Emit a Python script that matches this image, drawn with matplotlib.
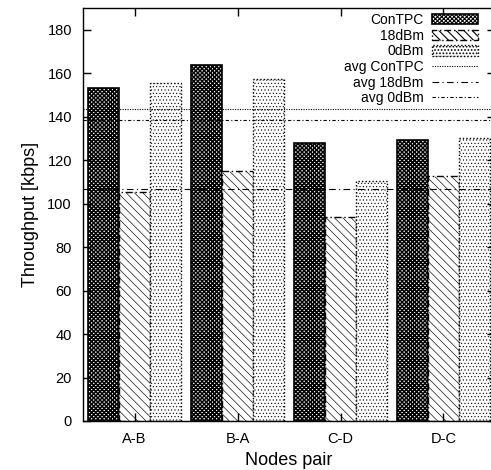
#!/usr/bin/env python3
"""Throughput per node pair: ConTPC vs fixed 18dBm / 0dBm transmit power."""

import matplotlib
matplotlib.use("Agg")
import matplotlib.pyplot as plt
from matplotlib.patches import Patch
from matplotlib.lines import Line2D
import numpy as np

# data
pairs = ["A-B", "B-A", "C-D", "D-C"]
contpc = [153, 164, 128, 129.5]
dbm18 = [105.5, 115, 94, 112.5]
dbm0 = [155.5, 157.5, 110.5, 130]
series_names = ["ConTPC", "18dBm", "0dBm"]
avg_names = ["avg ConTPC", "avg 18dBm", "avg 0dBm"]
avg_values = [143.7, 106.8, 138.3]
yticks = [0, 20, 40, 60, 80, 100, 120, 140, 160, 180]

plt.rcParams['font.family'] = ['Liberation Sans', 'DejaVu Sans']
plt.rcParams['hatch.linewidth'] = 0.8
plt.rcParams['hatch.color'] = 'black'

W, H = 491, 470
fig = plt.figure(figsize=(W / 100, H / 100), dpi=100)
ax = fig.add_axes([83 / W, (H - 421) / H, (495 - 83) / W, (421 - 8) / H])

x = np.arange(len(pairs))
bw = 0.3

styles = [
    dict(hatch='xxxxxxxx', edgecolor='black', linewidth=1.2, linestyle='-'),
    dict(hatch='\\\\\\\\', edgecolor='black', linewidth=1.0, linestyle=(0, (5, 2, 1, 2))),
    dict(hatch='.....', edgecolor='black', linewidth=1.0, linestyle=(0, (1, 1.5))),
]
hatch_lw = [1.1, 0.45, 0.4]

for k, vals in enumerate([contpc, dbm18, dbm0]):
    bars = ax.bar(x + (k - 1) * bw, vals, width=bw, facecolor='white', **styles[k])
    for b in bars:
        if hasattr(b, 'set_hatch_linewidth'):
            b.set_hatch_linewidth(hatch_lw[k])

avg_styles = [(0, (1, 1.2)), (0, (6, 3, 1, 3)), (0, (3, 2, 1, 2))]
for val, ls in zip(avg_values, avg_styles):
    ax.axhline(val, color='black', linewidth=0.8, linestyle=ls, zorder=3)

ax.set_xlim(-0.5, 3.5)
ax.set_ylim(0, 190)
ax.set_yticks(yticks)
ax.set_xticks(x)
ax.set_xticklabels(pairs)
ax.tick_params(axis='both', direction='in', length=6, width=1, labelsize=10.5,
               top=True, right=True, pad=8)
for s in ax.spines.values():
    s.set_linewidth(1.0)

ax.set_xlabel('Nodes pair', fontsize=13, labelpad=4)
ax.set_ylabel('Throughput [kbps]', fontsize=13, labelpad=6)

handles = []
for k, name in enumerate(series_names):
    p = Patch(facecolor='white', label=name, **styles[k])
    if hasattr(p, 'set_hatch_linewidth'):
        p.set_hatch_linewidth(hatch_lw[k])
    handles.append(p)
for name, ls in zip(avg_names, avg_styles):
    handles.append(Line2D([], [], color='black', linewidth=0.8, linestyle=ls, label=name))

fig.legend(handles=handles, loc='upper right', bbox_to_anchor=(478 / W, (H - 13) / H),
           bbox_transform=fig.transFigure, frameon=False, markerfirst=False,
           fontsize=10, handlelength=3.3, handleheight=0.8, handletextpad=0.6,
           labelspacing=0.12, borderpad=0, borderaxespad=0)

fig.savefig('out.png', dpi=100, facecolor='white')
